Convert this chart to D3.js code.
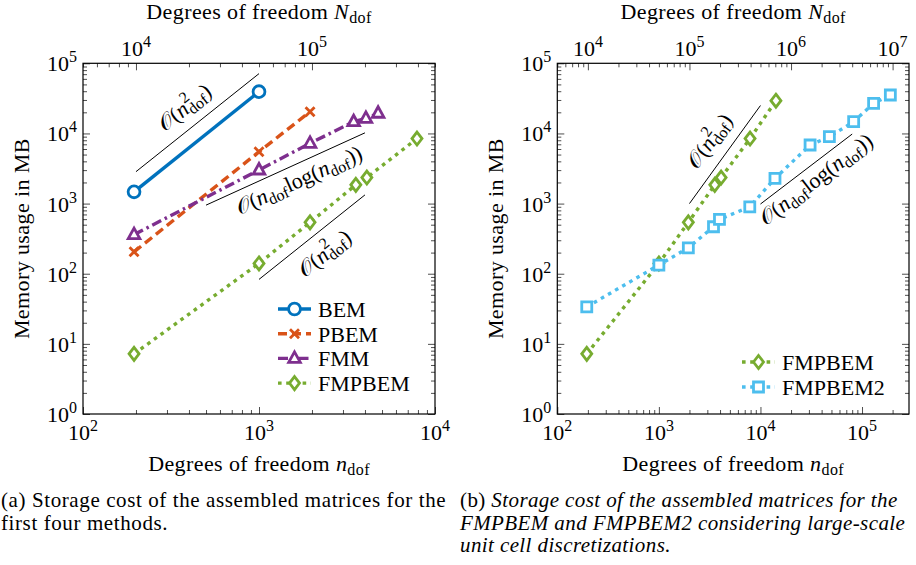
<!DOCTYPE html>
<html>
<head>
<meta charset="utf-8">
<script src="https://cdn.jsdelivr.net/npm/d3@7"></script>
</head>
<body style="margin:0;background:#fff">
<svg id="chart" width="916" height="565"></svg>
<script>
// memory usage (MB) over n_dof
const bemN = [195, 1000];
const bemMB = [1470, 39400];
const pbemN = [195, 1000, 1950];
const pbemMB = [205, 5480, 20400];
const fmmN = [195, 1000, 1950, 3450, 4050, 4750];
const fmmMB = [361, 3010, 7230, 14700, 16400, 19400];
const fmpN = [195, 1000, 1950, 3550, 4100, 7900, 14200];
const fmpMB = [7.2, 140, 540, 1850, 2350, 8450, 29300];
const fmp2N = [195, 1000, 1950, 3450, 3950, 7850, 13900, 30800, 47700, 82700, 130000, 190000];
const fmp2MB = [33.7, 133, 234, 467, 596, 900, 2290, 6840, 8980, 14700, 26800, 35300];

// slope guides: [n, MB] end points and label anchor
const guidesA = [
  { from: [200, 2850], to: [1000, 71250], at: [385, 22300], kind: "n2" },
  { from: [500, 950], to: [4000, 10200], at: [1710, 2030], kind: "nlogn" },
  { from: [1000, 83], to: [4000, 1330], at: [2400, 184], kind: "n2" },
];
const guidesB = [
  { from: [2000, 1000], to: [10000, 25000], at: [3280, 7540], kind: "n2" },
  { from: [10000, 985], to: [80000, 9800], at: [36300, 2100], kind: "nlogn" },
];

const N_PER_N = 50;   // top axis N_dof = 50 * n_dof
const FONT = "'Liberation Serif', Tinos, 'Times New Roman', serif";
const FS = 22, FS_SM = 16;

const STYLE = {
  BEM:     { color: "#0072BD", dash: null,          marker: "circle" },
  PBEM:    { color: "#D95319", dash: "9,5",         marker: "x" },
  FMM:     { color: "#7E2F8E", dash: "10,4,2.5,4",  marker: "triangle" },
  FMPBEM:  { color: "#77AC30", dash: "3.6,4.6",     marker: "diamond" },
  FMPBEM2: { color: "#4DBEEE", dash: "3.6,4.6",     marker: "square" },
};

const zip = (ns, ms) => ns.map((n, i) => ({ n, mb: ms[i] }));

const panels = [
  {
    x0: 83, x1: 435, y0: 63.3, y1: 414, xDom: [1e2, 1e4],
    series: [
      { name: "BEM", pts: zip(bemN, bemMB) },
      { name: "PBEM", pts: zip(pbemN, pbemMB) },
      { name: "FMM", pts: zip(fmmN, fmmMB) },
      { name: "FMPBEM", pts: zip(fmpN, fmpMB) },
    ],
    guides: guidesA,
    legend: { x: 278, y: 309, step: 24.7 },
  },
  {
    x0: 557.3, x1: 909, y0: 63.3, y1: 414, xDom: [1e2, 2.9e5],
    series: [
      { name: "FMPBEM", pts: zip(fmpN, fmpMB) },
      { name: "FMPBEM2", pts: zip(fmp2N, fmp2MB) },
    ],
    guides: guidesB,
    legend: { x: 742, y: 362, step: 25 },
  },
];

const svg = d3.select("#chart");

const txt = (g, size) => g.append("text")
  .style("font-family", FONT).style("font-size", (size || FS) + "px").attr("fill", "#000");

function logTicks(dom) {
  const major = [], minor = [];
  const lo = Math.floor(Math.log10(dom[0]) + 1e-9), hi = Math.ceil(Math.log10(dom[1]));
  for (let d = lo; d <= hi; d++) {
    for (let k = 1; k <= 9; k++) {
      const v = k * Math.pow(10, d);
      if (v < dom[0] * 0.999 || v > dom[1] * 1.001) continue;
      (k === 1 ? major : minor).push(v);
    }
  }
  return { major, minor };
}

function powLabel(g, x, y, exp, anchor) {
  const t = txt(g).attr("x", x).attr("y", y).attr("text-anchor", anchor);
  t.append("tspan").text("10");
  t.append("tspan").attr("dy", -9).style("font-size", FS_SM + "px").text(exp);
}

function markerPath(type) {
  switch (type) {
    case "x": return "M-4.5,-4.5L4.5,4.5M-4.5,4.5L4.5,-4.5";
    case "triangle": return "M0,-6.5L5.8,4L-5.8,4Z";
    case "diamond": return "M0,-6.5L5,0L0,6.5L-5,0Z";
    case "square": return "M-5,-5L5,-5L5,5L-5,5Z";
    default: return d3.symbol(d3.symbolCircle, 110)();
  }
}

function drawMarker(g, type, color, x, y) {
  g.append("path").attr("d", markerPath(type))
    .attr("transform", `translate(${x},${y})`)
    .attr("fill", type === "x" ? "none" : "#fff")
    .attr("stroke", color).attr("stroke-width", 2.8)
    .attr("stroke-linejoin", "miter");
}

// n^2_dof  or  n_dof log(n_dof)
function mathLabel(t, kind) {
  t.append("tspan").text("𝒪");
  t.append("tspan").text("(");
  const sub = (s, dy) => t.append("tspan").attr("dy", dy).style("font-size", FS_SM + "px").text(s);
  if (kind === "n2") {
    t.append("tspan").style("font-style", "italic").text("n");
    sub("2", -9);
    sub("dof", 14).attr("dx", -8);
    t.append("tspan").attr("dy", -5).text(")");
  } else {
    t.append("tspan").style("font-style", "italic").text("n");
    sub("dof", 5);
    t.append("tspan").attr("dy", -5).text("log(");
    t.append("tspan").style("font-style", "italic").text("n");
    sub("dof", 5);
    t.append("tspan").attr("dy", -5).text("))");
  }
}

function axisTitle(g, x, y, rotate, sym) {
  const t = txt(g).attr("text-anchor", "middle").attr("letter-spacing", 0.4)
    .attr("transform", `translate(${x},${y})` + (rotate ? " rotate(-90)" : ""));
  if (!sym) { t.text("Memory usage in MB"); return; }
  t.append("tspan").text("Degrees of freedom ");
  t.append("tspan").style("font-style", "italic").text(sym);
  t.append("tspan").attr("dy", 4).style("font-size", FS_SM + "px").text("dof");
}

panels.forEach(p => {
  const g = svg.append("g");
  const x = d3.scaleLog().domain(p.xDom).range([p.x0, p.x1]);
  const xTop = d3.scaleLog().domain(p.xDom.map(v => v * N_PER_N)).range([p.x0, p.x1]);
  const y = d3.scaleLog().domain([1, 1e5]).range([p.y1, p.y0]);

  const xt = logTicks(x.domain()), xtt = logTicks(xTop.domain()), yt = logTicks(y.domain());

  const tickAxis = (axis, vals, len, tr) => {
    const a = g.append("g").attr("transform", tr)
      .call(axis.tickValues(vals).tickSize(-len).tickFormat(""));
    a.select(".domain").remove();
    a.selectAll("line").attr("stroke", "#222").attr("stroke-width", 0.8);
  };
  [[xt.major, 7], [xt.minor, 4]].forEach(([v, l]) => {
    tickAxis(d3.axisBottom(x), v, l, `translate(0,${p.y1})`);
  });
  [[xtt.major, 7], [xtt.minor, 4]].forEach(([v, l]) => {
    tickAxis(d3.axisTop(xTop), v, l, `translate(0,${p.y0})`);
  });
  [[yt.major, 7], [yt.minor, 4]].forEach(([v, l]) => {
    tickAxis(d3.axisLeft(y), v, l, `translate(${p.x0},0)`);
    tickAxis(d3.axisRight(y), v, l, `translate(${p.x1},0)`);
  });

  g.append("rect").attr("x", p.x0).attr("y", p.y0)
    .attr("width", p.x1 - p.x0).attr("height", p.y1 - p.y0)
    .attr("fill", "none").attr("stroke", "#000").attr("stroke-width", 1.2);

  xt.major.forEach(v => powLabel(g, x(v), p.y1 + 26, Math.round(Math.log10(v)), "middle"));
  xtt.major.forEach(v => powLabel(g, xTop(v), p.y0 - 7, Math.round(Math.log10(v)), "middle"));
  yt.major.forEach(v => powLabel(g, p.x0 - 6, y(v) + 8, Math.round(Math.log10(v)), "end"));

  const cx = (p.x0 + p.x1) / 2;
  axisTitle(g, cx, 19, false, "N");
  axisTitle(g, cx, 471, false, "n");
  axisTitle(g, p.x0 - 54, (p.y0 + p.y1) / 2, true, null);

  // slope guides
  p.guides.forEach(gd => {
    const ax = x(gd.from[0]), ay = y(gd.from[1]), bx = x(gd.to[0]), by = y(gd.to[1]);
    g.append("line").attr("x1", ax).attr("y1", ay).attr("x2", bx).attr("y2", by)
      .attr("stroke", "#000").attr("stroke-width", 1);
    const ang = Math.atan2(by - ay, bx - ax) * 180 / Math.PI;
    const t = txt(g).attr("text-anchor", "middle").attr("dominant-baseline", "middle")
      .attr("transform", `translate(${x(gd.at[0])},${y(gd.at[1])}) rotate(${ang})`);
    mathLabel(t, gd.kind);
  });

  const line = d3.line().x(d => x(d.n)).y(d => y(d.mb));
  p.series.forEach(s => {
    const st = STYLE[s.name];
    const pts = s.pts.filter(d => d.n >= p.xDom[0] && d.n <= p.xDom[1]);
    g.append("path").datum(pts).attr("d", line)
      .attr("fill", "none").attr("stroke", st.color).attr("stroke-width", 3.4)
      .attr("stroke-dasharray", st.dash);
    pts.forEach(d => drawMarker(g, st.marker, st.color, x(d.n), y(d.mb)));
  });

  // legend
  p.series.forEach((s, i) => {
    const st = STYLE[s.name];
    const ly = p.legend.y + i * p.legend.step;
    g.append("line").attr("x1", p.legend.x).attr("x2", p.legend.x + 33)
      .attr("y1", ly).attr("y2", ly)
      .attr("stroke", st.color).attr("stroke-width", 3.4).attr("stroke-dasharray", st.dash);
    drawMarker(g, st.marker, st.color, p.legend.x + 16.5, ly);
    txt(g).attr("x", p.legend.x + 40).attr("y", ly + 8).text(s.name);
  });
});

// captions
const capA = ["(a) Storage cost of the assembled matrices for the", "first four methods."];
const capB = ["Storage cost of the assembled matrices for the",
  "FMPBEM and FMPBEM2 considering large-scale", "unit cell discretizations."];
capA.forEach((l, i) => {
  txt(svg, 21).attr("letter-spacing", 0.6).attr("x", 1).attr("y", 507 + i * 22.5).text(l);
});
capB.forEach((l, i) => {
  const t = txt(svg, 21).attr("letter-spacing", 0.4).attr("x", 460).attr("y", 507 + i * 22.5);
  if (i === 0) t.append("tspan").text("(b) ");
  t.append("tspan").style("font-style", "italic").text(l);
});
</script>
</body>
</html>
